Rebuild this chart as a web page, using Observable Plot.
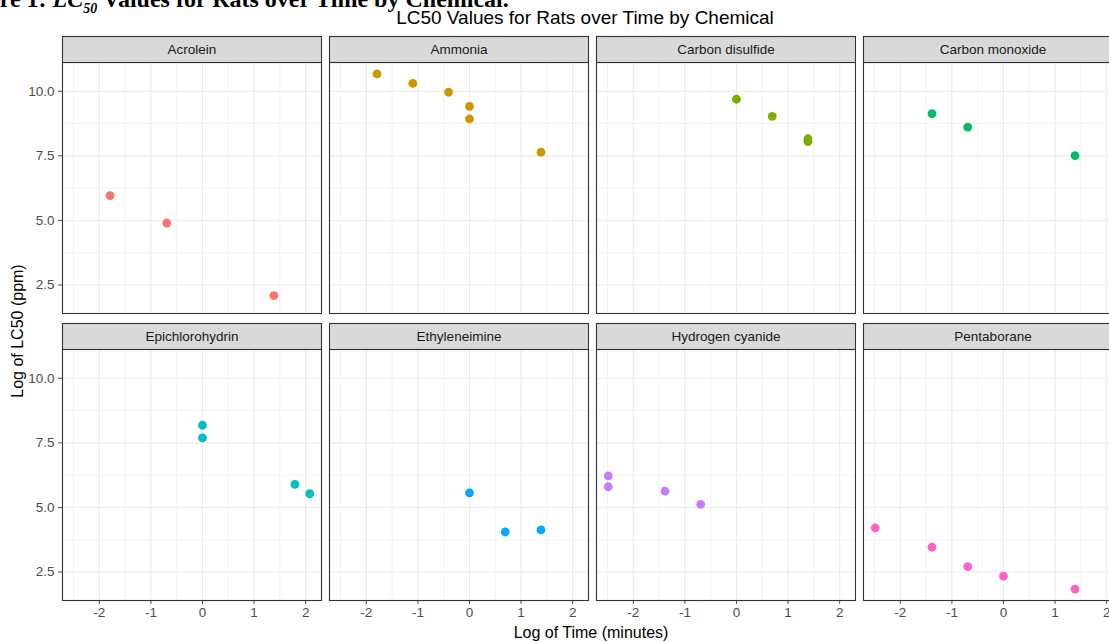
<!DOCTYPE html>
<html>
<head>
<meta charset="utf-8">
<script src="https://cdn.jsdelivr.net/npm/d3@7"></script>
<script src="https://cdn.jsdelivr.net/npm/@observablehq/plot@0.6"></script>
<style>
  html, body { margin: 0; padding: 0; background: #fff; overflow: hidden; width: 1109px; height: 642px; }
  #wrap { position: relative; width: 1109px; height: 642px; overflow: hidden; font-family: "Liberation Sans", Arial, sans-serif; }
  #fig { position: absolute; left: -47px; top: -13px; font-family: "Liberation Serif", "Times New Roman", serif; font-weight: bold; font-size: 24px; line-height: 24px; white-space: nowrap; color: #000; }
  #fig sub { font-size: 14px; }
  #title { position: absolute; left: 0; width: 1170px; top: 7px; text-align: center; font-size: 19px; line-height: 22px; color: #000; }
  #chart { position: absolute; left: 0; top: 30px; width: 1128px; }
  #chart svg { max-width: none !important; }
  #xlab { position: absolute; left: 0; width: 1182px; top: 624px; text-align: center; font-size: 16px; line-height: 18px; color: #000; }
  #ylab { position: absolute; left: 18px; top: 331px; transform: translate(-50%, -50%) rotate(-90deg); font-size: 16px; line-height: 18px; white-space: nowrap; color: #000; }
</style>
</head>
<body>
<div id="wrap">
  <div id="fig">Figure 1: <i>LC<sub>50</sub></i> Values for Rats over Time by Chemical.</div>
  <div id="title">LC50 Values for Rats over Time by Chemical</div>
  <div id="chart"></div>
  <div id="xlab">Log of Time (minutes)</div>
  <div id="ylab">Log of LC50 (ppm)</div>
</div>
<script>
// ---- data ----
const chemicals = ["Acrolein", "Ammonia", "Carbon disulfide", "Carbon monoxide",
                   "Epichlorohydrin", "Ethyleneimine", "Hydrogen cyanide", "Pentaborane"];
const chemicalColors = ["#F8766D", "#CD9600", "#7CAE00", "#00BE67",
                        "#00BFC4", "#00A9FF", "#C77CFF", "#FF61CC"];

const pointChemical = [
  "Acrolein", "Acrolein", "Acrolein",
  "Ammonia", "Ammonia", "Ammonia", "Ammonia", "Ammonia", "Ammonia",
  "Carbon disulfide", "Carbon disulfide", "Carbon disulfide", "Carbon disulfide",
  "Carbon monoxide", "Carbon monoxide", "Carbon monoxide",
  "Epichlorohydrin", "Epichlorohydrin", "Epichlorohydrin", "Epichlorohydrin",
  "Ethyleneimine", "Ethyleneimine", "Ethyleneimine",
  "Hydrogen cyanide", "Hydrogen cyanide", "Hydrogen cyanide", "Hydrogen cyanide",
  "Pentaborane", "Pentaborane", "Pentaborane", "Pentaborane", "Pentaborane"
];
const logTime = [
  -1.792, -0.693, 1.386,
  -1.792, -1.099, -0.405, 0, 0, 1.386,
  0, 0.693, 1.386, 1.386,
  -1.386, -0.693, 1.386,
  0, 0, 1.792, 2.079,
  0, 0.693, 1.386,
  -2.485, -2.485, -1.386, -0.693,
  -2.485, -1.386, -0.693, 0, 1.386
];
const logLC50 = [
  5.96, 4.90, 2.09,
  10.67, 10.30, 9.96, 9.41, 8.93, 7.64,
  9.69, 9.03, 8.16, 8.05,
  9.13, 8.61, 7.51,
  8.18, 7.69, 5.89, 5.53,
  5.56, 4.05, 4.13,
  6.22, 5.80, 5.63, 5.12,
  4.21, 3.46, 2.71, 2.34, 1.84
];
const xMajor = [-2, -1, 0, 1, 2];
const xMinor = [-2.5, -1.5, -0.5, 0.5, 1.5];
const yMajor = [2.5, 5, 7.5, 10];
const yMinor = [3.75, 6.25, 8.75];

// ---- layout ----
const W = 1128, H = 612, mT = 32, mB = 42, mL = 62, mR = 6, colGap = 8, rowGap = 36, stripH = 26;
const bandW = (W - mL - mR - 3 * colGap) / 4;
const bandH = (H - mT - mB - rowGap) / 2;

function expand(ext) { const p = (ext[1] - ext[0]) * 0.05; return [ext[0] - p, ext[1] + p]; }
const xDom = expand(d3.extent(logTime));
const yDom = expand(d3.extent(logLC50));

const rows = logTime.map((t, i) => ({chem: pointChemical[i], t, v: logLC50[i]}));
const col = c => chemicals.indexOf(c) % 4;
const row = c => Math.floor(chemicals.indexOf(c) / 4);

const chart = Plot.plot({
  width: W, height: H,
  marginTop: mT, marginBottom: mB, marginLeft: mL, marginRight: mR,
  style: {fontFamily: '"Liberation Sans", Arial, sans-serif', background: "white", overflow: "visible", maxWidth: "none"},
  fx: {domain: [0, 1, 2, 3], paddingInner: colGap / (bandW + colGap), paddingOuter: 0, round: false, axis: null},
  fy: {domain: [0, 1], paddingInner: rowGap / (bandH + rowGap), paddingOuter: 0, round: false, axis: null},
  x: {domain: xDom},
  y: {domain: yDom},
  color: {domain: chemicals, range: chemicalColors},
  marks: [
    Plot.gridX(xMinor, {stroke: "#F2F2F2", strokeOpacity: 1, strokeWidth: 1}),
    Plot.gridY(yMinor, {stroke: "#F2F2F2", strokeOpacity: 1, strokeWidth: 1}),
    Plot.gridX(xMajor, {stroke: "#EBEBEB", strokeOpacity: 1, strokeWidth: 1.1}),
    Plot.gridY(yMajor, {stroke: "#EBEBEB", strokeOpacity: 1, strokeWidth: 1.1}),
    Plot.axisX({ticks: xMajor, tickFormat: d => String(d), tickSize: 4, tickPadding: 3, fontSize: 13.5, color: "#4D4D4D", label: null}),
    Plot.axisY({ticks: yMajor, tickFormat: d3.format(".1f"), tickSize: 4, tickPadding: 4, fontSize: 13.5, color: "#4D4D4D", label: null}),
    Plot.dot(rows, {x: "t", y: "v", fx: d => col(d.chem), fy: d => row(d.chem), fill: "chem", r: 4.4, stroke: "none"}),
    Plot.frame({stroke: "#333333", strokeWidth: 1.1}),
    Plot.frame({fill: "#D9D9D9", stroke: "#333333", strokeWidth: 1.1, insetTop: -stripH, insetBottom: bandH}),
    Plot.text(chemicals, {fx: (d, i) => i % 4, fy: (d, i) => Math.floor(i / 4), text: d => d,
      frameAnchor: "top", lineAnchor: "middle", dy: -stripH / 2, fontSize: 13.5, fill: "#1A1A1A"})
  ]
});
chart.style.maxWidth = "none";
document.getElementById("chart").appendChild(chart);
</script>
</body>
</html>
